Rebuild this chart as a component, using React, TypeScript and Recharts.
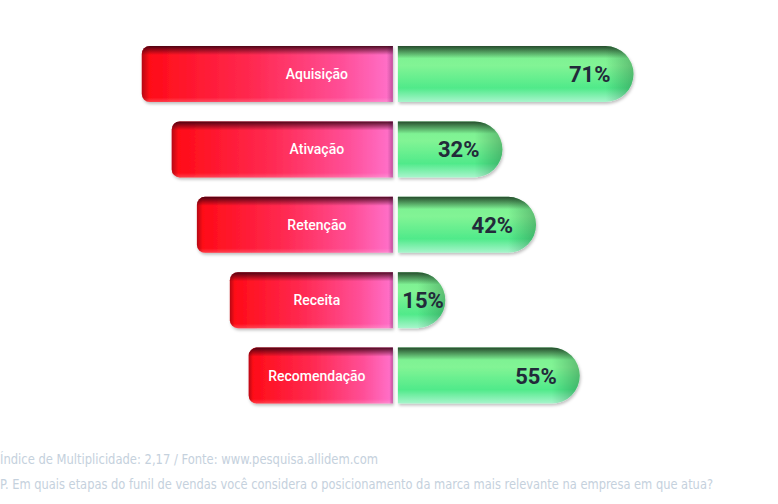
import React from 'react';
import { BarChart, Bar, XAxis, YAxis } from 'recharts';

const categories = ['Aquisição', 'Ativação', 'Retenção', 'Receita', 'Recomendação'];
const percentValues = [71, 32, 42, 15, 55];
// length of the left (label) funnel bars, in the same axis units
const funnelLengths = [75.3, 66.4, 58.9, 49.1, 43.5];
const footerLines = [
  'Índice de Multiplicidade: 2,17 / Fonte: www.pesquisa.allidem.com',
  'P. Em quais etapas do funil de vendas você considera o posicionamento da marca mais relevante na empresa em que atua?',
];
const footerWidths = [378, 713];

const data = categories.map((name, i) => ({
  name,
  left: -funnelLengths[i],
  right: percentValues[i],
}));

const LeftShape = (props: any) => {
  let { x, y, width, height, index, payload } = props;
  if (width < 0) {
    x += width;
    width = -width;
  }
  const gap = 2;
  const w = width - gap;
  const r = 8;
  const h = height;
  const d = `M${x + r},${y} H${x + w} V${y + h} H${x + r} A${r},${r} 0 0 1 ${x},${y + h - r} V${y + r} A${r},${r} 0 0 1 ${x + r},${y} Z`;
  const id = `l${index}`;
  return (
    <g>
      <defs>
        <linearGradient id={`${id}h`} x1="0" y1="0" x2="1" y2="0">
          <stop offset="0" stopColor="#ff0a14" />
          <stop offset="0.45" stopColor="#ff2a52" />
          <stop offset="0.8" stopColor="#ff4f98" />
          <stop offset="1" stopColor="#ff72cc" />
        </linearGradient>
        <linearGradient id={`${id}v`} x1="0" y1="0" x2="0" y2="1">
          <stop offset="0" stopColor="#3a0010" stopOpacity="0.9" />
          <stop offset="0.16" stopColor="#3a0010" stopOpacity="0" />
          <stop offset="0.92" stopColor="#ffffff" stopOpacity="0" />
          <stop offset="1" stopColor="#ffffff" stopOpacity="0.2" />
        </linearGradient>
        <linearGradient id={`${id}e`} x1="0" y1="0" x2="1" y2="0">
          <stop offset="0" stopColor="#300010" stopOpacity="0.35" />
          <stop offset="0.03" stopColor="#300010" stopOpacity="0" />
          <stop offset="0.975" stopColor="#300030" stopOpacity="0" />
          <stop offset="1" stopColor="#300030" stopOpacity="0.3" />
        </linearGradient>
        <filter id={`${id}s`} x="-10%" y="-20%" width="120%" height="150%">
          <feDropShadow dx="1" dy="2" stdDeviation="1.6" floodColor="#000" floodOpacity="0.25" />
        </filter>
      </defs>
      <path d={d} fill={`url(#${id}h)`} filter={`url(#${id}s)`} />
      <path d={d} fill={`url(#${id}v)`} />
      <path d={d} fill={`url(#${id}e)`} />
      <text
        x={x + w - 76}
        y={y + h / 2 + 5}
        textAnchor="middle"
        fill="#ffffff"
        fontFamily="Roboto, sans-serif"
        fontWeight={500}
        fontSize={14}
      >
        {payload.name}
      </text>
    </g>
  );
};

const RightShape = (props: any) => {
  let { x, y, width, height, index, payload } = props;
  if (width < 0) {
    x += width;
    width = -width;
  }
  const gap = 3;
  const x0 = x + gap;
  const xe = x + width;
  const h = height;
  const R = h / 2;
  const d = `M${x0},${y} H${xe - R} A${R},${R} 0 0 1 ${xe - R},${y + h} H${x0} Z`;
  const id = `r${index}`;
  const w = xe - x0;
  const edgeStart = Math.max(0, (w - R) / w);
  return (
    <g>
      <defs>
        <linearGradient id={`${id}b`} x1="0" y1="0" x2="0" y2="1">
          <stop offset="0" stopColor="#78ee90" />
          <stop offset="0.35" stopColor="#82f495" />
          <stop offset="0.75" stopColor="#50ea8a" />
          <stop offset="1" stopColor="#a8f5cc" />
        </linearGradient>
        <linearGradient id={`${id}v`} x1="0" y1="0" x2="0" y2="1">
          <stop offset="0" stopColor="#1e3a22" stopOpacity="0.9" />
          <stop offset="0.22" stopColor="#1e3a22" stopOpacity="0" />
          <stop offset="1" stopColor="#1e3a22" stopOpacity="0" />
        </linearGradient>
        <linearGradient id={`${id}e`} x1="0" y1="0" x2="1" y2="0">
          <stop offset={edgeStart} stopColor="#0a4020" stopOpacity="0" />
          <stop offset="1" stopColor="#0a4020" stopOpacity="0.3" />
        </linearGradient>
        <filter id={`${id}s`} x="-10%" y="-20%" width="120%" height="150%">
          <feDropShadow dx="1" dy="2" stdDeviation="1.6" floodColor="#000" floodOpacity="0.25" />
        </filter>
      </defs>
      <path d={d} fill={`url(#${id}b)`} filter={`url(#${id}s)`} />
      <path d={d} fill={`url(#${id}v)`} />
      <path d={d} fill={`url(#${id}e)`} />
      <text
        x={Math.max(xe - 23, x0 + 46)}
        y={y + h / 2 + 8}
        textAnchor="end"
        fill="#222a3a"
        fontFamily="Roboto, sans-serif"
        fontWeight={700}
        fontSize={22}
      >
        {`${payload.right}%`}
      </text>
    </g>
  );
};

export default function App() {
  return (
    <div
      style={{
        position: 'absolute',
        left: 0,
        top: 0,
        width: 778,
        height: 504,
        background: '#ffffff',
      }}
    >
      <BarChart
        width={778}
        height={420}
        data={data}
        layout="vertical"
        stackOffset="sign"
        margin={{ top: 36, right: 47, left: 126, bottom: 7 }}
      >
        <XAxis type="number" domain={[-80, 100]} hide />
        <YAxis type="category" dataKey="name" hide />
        <Bar dataKey="left" stackId="a" barSize={56} shape={<LeftShape />} isAnimationActive={false} />
        <Bar dataKey="right" stackId="a" barSize={56} shape={<RightShape />} isAnimationActive={false} />
      </BarChart>
      <svg
        width={778}
        height={84}
        style={{ position: 'absolute', left: 0, top: 420 }}
      >
        {footerLines.map((t, i) => (
          <text
            key={i}
            x={0}
            y={44 + i * 25}
            textLength={footerWidths[i]}
            lengthAdjust="spacingAndGlyphs"
            fontFamily='"DejaVu Sans Condensed", sans-serif'
            fontSize={14}
            fill="#c5d1dd"
          >
            {t}
          </text>
        ))}
      </svg>
    </div>
  );
}
